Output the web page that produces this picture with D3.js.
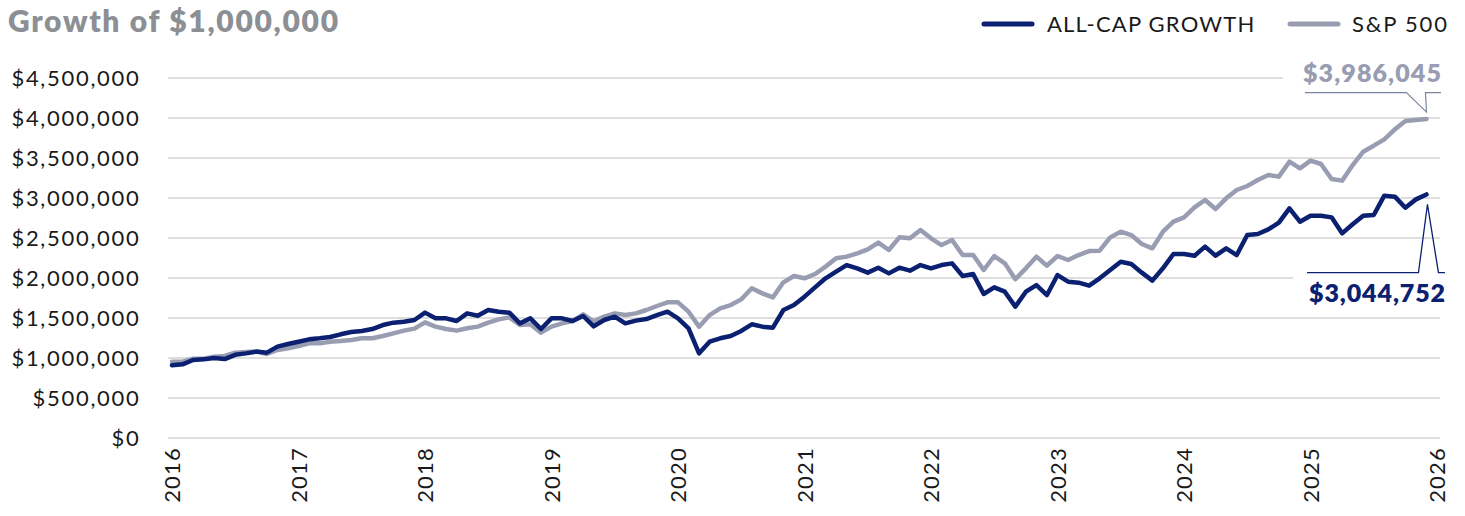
<!DOCTYPE html>
<html>
<head>
<meta charset="utf-8">
<script src="https://cdn.jsdelivr.net/npm/d3@7"></script>
<style>
  html, body { margin: 0; padding: 0; background: #fff; }
  svg { display: block; font-family: Lato, "Open Sans", sans-serif; }
</style>
</head>
<body>
<svg id="chart" width="1465" height="516"></svg>
<script>
// ---- Data (monthly, Jan 2016 – Dec 2025) ----
const seriesNames = ["ALL-CAP GROWTH", "S&P 500"];
const yearLabels = ["2016","2017","2018","2019","2020","2021","2022","2023","2024","2025","2026"];
const yTicks = [0, 500000, 1000000, 1500000, 2000000, 2500000, 3000000, 3500000, 4000000, 4500000];

const allCapGrowth = [
  910000, 921000, 975000, 983000, 1000000, 987000, 1040000, 1058000, 1080000, 1067000, 1142000, 1175000,
  1204000, 1233000, 1246000, 1262000, 1296000, 1325000, 1338000, 1362000, 1412000, 1442000, 1454000, 1475000,
  1567000, 1496000, 1496000, 1462000, 1558000, 1529000, 1600000, 1579000, 1567000, 1433000, 1496000, 1362000,
  1496000, 1496000, 1462000, 1525000, 1396000, 1475000, 1517000, 1433000, 1467000, 1487000, 1537000, 1579000,
  1496000, 1371000, 1058000, 1204000, 1246000, 1275000, 1338000, 1421000, 1392000, 1379000, 1600000, 1662000,
  1767000, 1883000, 1996000, 2079000, 2162000, 2121000, 2067000, 2129000, 2058000, 2129000, 2092000, 2162000,
  2121000, 2162000, 2183000, 2025000, 2050000, 1800000, 1883000, 1829000, 1642000, 1829000, 1912000, 1787000,
  2037000, 1954000, 1942000, 1904000, 1996000, 2100000, 2204000, 2175000, 2067000, 1967000, 2121000, 2300000,
  2300000, 2279000, 2392000, 2279000, 2371000, 2287000, 2537000, 2550000, 2608000, 2692000, 2871000, 2704000,
  2779000, 2779000, 2758000, 2558000, 2671000, 2779000, 2787000, 3029000, 3017000, 2879000, 2983000, 3044752
];

const sp500 = [
  954000, 954000, 992000, 992000, 1017000, 1025000, 1067000, 1075000, 1080000, 1050000, 1100000, 1121000,
  1150000, 1183000, 1183000, 1204000, 1212000, 1225000, 1246000, 1246000, 1275000, 1308000, 1342000, 1367000,
  1446000, 1392000, 1362000, 1342000, 1371000, 1392000, 1442000, 1483000, 1508000, 1412000, 1421000, 1317000,
  1392000, 1433000, 1462000, 1546000, 1458000, 1517000, 1558000, 1537000, 1558000, 1600000, 1650000, 1696000,
  1696000, 1579000, 1392000, 1537000, 1621000, 1662000, 1733000, 1871000, 1808000, 1758000, 1946000, 2025000,
  1996000, 2050000, 2142000, 2246000, 2267000, 2308000, 2358000, 2442000, 2350000, 2508000, 2496000, 2600000,
  2496000, 2412000, 2475000, 2287000, 2287000, 2100000, 2275000, 2183000, 1985000, 2121000, 2267000, 2154000,
  2275000, 2225000, 2287000, 2337000, 2342000, 2508000, 2579000, 2537000, 2425000, 2371000, 2579000, 2704000,
  2758000, 2883000, 2975000, 2862000, 2996000, 3100000, 3150000, 3225000, 3287000, 3267000, 3454000, 3371000,
  3467000, 3425000, 3237000, 3217000, 3412000, 3579000, 3654000, 3733000, 3858000, 3962000, 3975000, 3986045
];

// ---- Layout ----
const NAVY = "#0b2070";
const GREY = "#999db2";
const svg = d3.select("#chart");

const x = d3.scaleLinear().domain([0, 120]).range([172, 1437]);
const y = d3.scaleLinear().domain([0, 4500000]).range([438, 78]);
const fmt = v => "$" + d3.format(",")(v);

// Title
svg.append("text")
  .attr("x", 8).attr("y", 32)
  .attr("font-size", 30).attr("font-weight", 800)
  .attr("letter-spacing", 1.7)
  .attr("fill", "#8c8f94")
  .text("Growth of $1,000,000");

// Gridlines
svg.append("g").selectAll("line").data(yTicks).join("line")
  .attr("x1", 168).attr("x2", 1440)
  .attr("y1", d => y(d)).attr("y2", d => y(d))
  .attr("stroke", "#d3d3d3").attr("stroke-width", 1.5);

// Y axis labels
const yAxis = d3.axisLeft(y).tickValues(yTicks).tickFormat(fmt).tickSize(0).tickPadding(0);
const gy = svg.append("g").attr("transform", "translate(140.5,0)").call(yAxis);
gy.select(".domain").remove();
gy.selectAll("text").attr("font-size", 22).attr("fill", "#1a1a1a")
  .attr("letter-spacing", 1.7)
  .attr("font-family", "Lato, sans-serif");

// X axis labels (rotated)
const xAxis = d3.axisBottom(x).tickValues(d3.range(0, 121, 12))
  .tickFormat((d, i) => yearLabels[i]).tickSize(0).tickPadding(0);
const gx = svg.append("g").attr("transform", "translate(0,447)").call(xAxis);
gx.select(".domain").remove();
gx.selectAll("text")
  .attr("font-size", 22).attr("fill", "#1a1a1a").attr("font-family", "Lato, sans-serif")
  .attr("letter-spacing", 1.2)
  .attr("text-anchor", "end")
  .attr("transform", "rotate(-90)")
  .attr("x", 0).attr("y", 0).attr("dy", "0.36em");

// Lines
const line = d3.line().x((d, i) => x(i)).y(d => y(d)).curve(d3.curveLinear);
svg.append("path").datum(sp500)
  .attr("d", line).attr("fill", "none").attr("stroke", GREY)
  .attr("stroke-width", 4.5).attr("stroke-linejoin", "round").attr("stroke-linecap", "round");
svg.append("path").datum(allCapGrowth)
  .attr("d", line).attr("fill", "none").attr("stroke", NAVY)
  .attr("stroke-width", 4.5).attr("stroke-linejoin", "round").attr("stroke-linecap", "round");

// Callouts
const last = allCapGrowth.length - 1;
const gxEnd = x(last), gyEnd = y(sp500[last]), nyEnd = y(allCapGrowth[last]);

// grey callout
svg.append("rect").attr("x", 1283).attr("y", 56).attr("width", 165).attr("height", 36).attr("fill", "#fff");
svg.append("path")
  .attr("d", `M1305,${gyEnd - 26.5} L${gxEnd - 20},${gyEnd - 26.5} L${gxEnd},${gyEnd - 7} L${gxEnd - 1},${gyEnd - 26.5} L1441,${gyEnd - 26.5}`)
  .attr("fill", "none").attr("stroke", "#7d84a0").attr("stroke-width", 1.2);
svg.append("text")
  .attr("x", 1442).attr("y", 82).attr("text-anchor", "end")
  .attr("font-size", 25).attr("font-weight", 800).attr("fill", GREY)
  .attr("letter-spacing", 1.1)
  .text(fmt(sp500[last]));

// navy callout
svg.append("rect").attr("x", 1293).attr("y", 273.5).attr("width", 155).attr("height", 34).attr("fill", "#fff");
svg.append("path")
  .attr("d", `M1307,${nyEnd + 78.3} L${gxEnd - 8},${nyEnd + 78.3} L${gxEnd + 1},${nyEnd + 10} L${gxEnd + 12},${nyEnd + 78.3} L1445,${nyEnd + 78.3}`)
  .attr("fill", "none").attr("stroke", NAVY).attr("stroke-width", 1.3);
svg.append("text")
  .attr("x", 1446).attr("y", 302).attr("text-anchor", "end")
  .attr("font-size", 25).attr("font-weight", 800).attr("fill", NAVY)
  .attr("letter-spacing", 0.9)
  .text(fmt(allCapGrowth[last]));

// Legend
const legend = [
  {name: seriesNames[0], color: NAVY, x1: 984, tx: 1047, ls: 1.2},
  {name: seriesNames[1], color: GREY, x1: 1290, tx: 1352, ls: 1.8}
];
const lg = svg.append("g");
lg.selectAll("line").data(legend).join("line")
  .attr("x1", d => d.x1).attr("x2", d => d.x1 + 48)
  .attr("y1", 24).attr("y2", 24)
  .attr("stroke", d => d.color).attr("stroke-width", 5).attr("stroke-linecap", "round");
lg.selectAll("text").data(legend).join("text")
  .attr("x", d => d.tx).attr("y", 32)
  .attr("font-size", 22).attr("fill", "#1a1a1a")
  .attr("letter-spacing", d => d.ls)
  .text(d => d.name);
</script>
</body>
</html>
